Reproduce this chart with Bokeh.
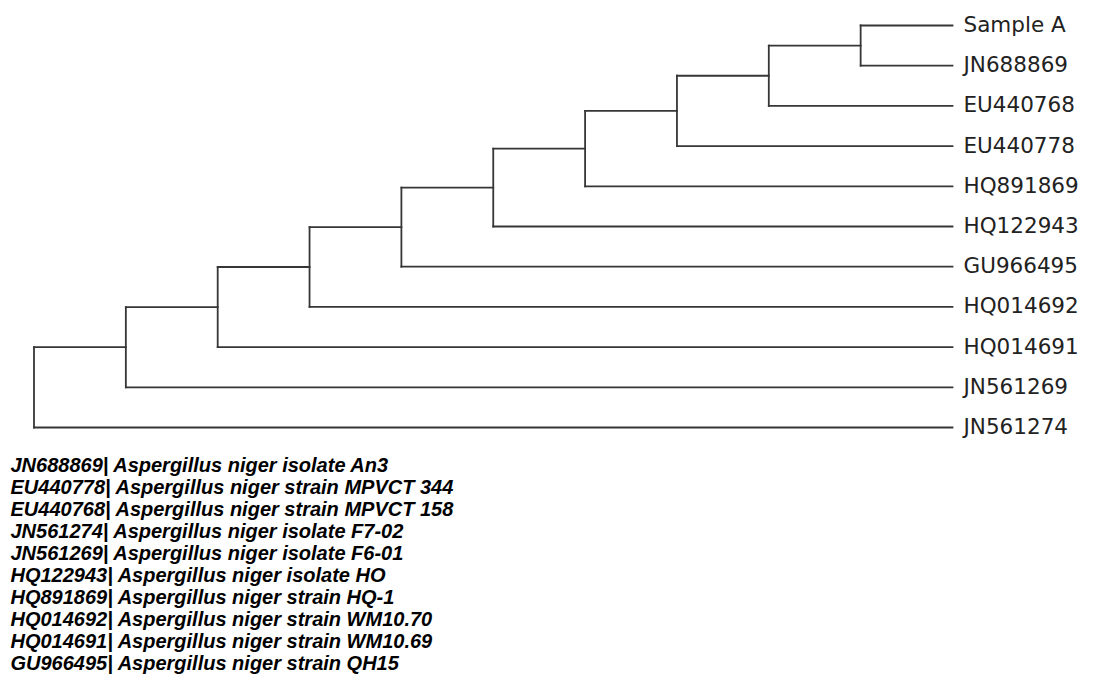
from bokeh.plotting import figure
from bokeh.models import Range1d, ColumnDataSource
from bokeh.embed import file_html
from bokeh.resources import INLINE
from bokeh.core.properties import value

# Leaves, top to bottom
leaf_names = ["Sample A", "JN688869", "EU440768", "EU440778", "HQ891869",
              "HQ122943", "GU966495", "HQ014692", "HQ014691", "JN561269", "JN561274"]
leaf_depth = 1.0
# Ladder tree: node k joins the clade above with leaf k+1 (k = 0 joins leaves 0 and 1)
node_depths = [0.9, 0.8, 0.7, 0.6, 0.5, 0.4, 0.3, 0.2, 0.1, 0.0]

legend_lines = [
    "JN688869| Aspergillus niger isolate An3",
    "EU440778| Aspergillus niger strain MPVCT 344",
    "EU440768| Aspergillus niger strain MPVCT 158",
    "JN561274| Aspergillus niger isolate F7-02",
    "JN561269| Aspergillus niger isolate F6-01",
    "HQ122943| Aspergillus niger isolate HO",
    "HQ891869| Aspergillus niger strain HQ-1",
    "HQ014692| Aspergillus niger strain WM10.70",
    "HQ014691| Aspergillus niger strain WM10.69",
    "GU966495| Aspergillus niger strain QH15",
]

W, H = 1100, 677
px_per_x = 918.5
x0_px = 33.5
px_per_y = 40.2
y0_px = 25.0

p = figure(width=W, height=H, output_backend="svg", toolbar_location=None,
           x_range=Range1d(-x0_px / px_per_x, (W - x0_px) / px_per_x),
           y_range=Range1d((H - y0_px) / px_per_y, -y0_px / px_per_y),
           min_border=0, min_border_left=0, min_border_right=0,
           min_border_top=0, min_border_bottom=0)
p.axis.visible = False
p.grid.visible = False
p.outline_line_color = None
p.background_fill_color = "white"
p.border_fill_color = "white"

# Build segments of the tree
x0s, y0s, x1s, y1s = [], [], [], []
clade_x = leaf_depth
clade_y = 0.0
for k, d in enumerate(node_depths):
    leaf_y = float(k + 1)
    x0s.append(d); y0s.append(clade_y); x1s.append(clade_x); y1s.append(clade_y)
    x0s.append(d); y0s.append(leaf_y); x1s.append(leaf_depth); y1s.append(leaf_y)
    x0s.append(d); y0s.append(clade_y); x1s.append(d); y1s.append(leaf_y)
    clade_x = d
    clade_y = (clade_y + leaf_y) / 2.0

src = ColumnDataSource(dict(x0=x0s, y0=y0s, x1=x1s, y1=y1s))
p.segment("x0", "y0", "x1", "y1", source=src, line_color="#363636",
          line_width=1.8, line_cap="square")

# Leaf labels
lab = ColumnDataSource(dict(x=[leaf_depth] * len(leaf_names),
                            y=list(range(len(leaf_names))),
                            t=leaf_names))
p.text("x", "y", text="t", source=lab, x_offset=11, y_offset=-1,
       text_font=value("DejaVu Sans"), text_font_size="21.5px",
       text_color="#222222", text_baseline="middle", text_align="left")

# Legend text block below the tree
base_px = 464.0
step_px = 22.0
leg = ColumnDataSource(dict(
    x=[(10 - x0_px) / px_per_x] * len(legend_lines),
    y=[(base_px + i * step_px - y0_px) / px_per_y for i in range(len(legend_lines))],
    t=legend_lines))
p.text("x", "y", text="t", source=leg,
       text_font=value("Liberation Sans"), text_font_size="20px",
       text_font_style="bold italic", text_color="black",
       text_baseline="alphabetic", text_align="left")

open("out.html", "w").write(file_html(p, INLINE))
